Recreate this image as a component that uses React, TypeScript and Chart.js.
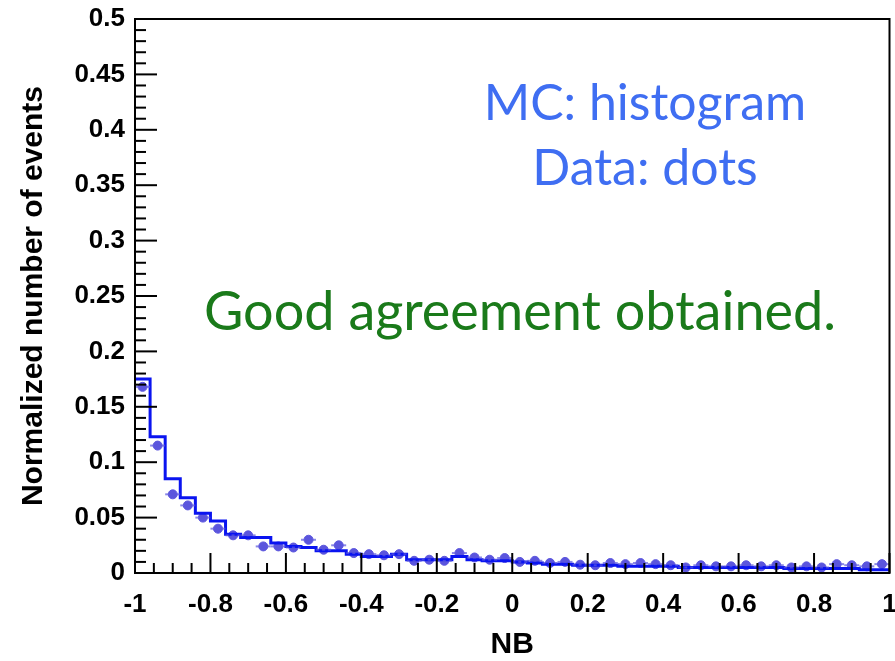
import React, { useEffect, useRef } from "react";
import { Chart, registerables } from "chart.js";
Chart.register(...registerables);

const binEdges: number[] = Array.from({ length: 51 }, (_, i) => -1 + i * 0.04);
const mcHist = [0.175,0.123,0.085,0.068,0.054,0.047,0.035,0.032,0.032,0.027,0.024,0.023,0.020,0.020,0.017,0.015,0.015,0.017,0.012,0.012,0.012,0.015,0.012,0.011,0.011,0.010,0.009,0.008,0.008,0.007,0.007,0.007,0.006,0.006,0.006,0.006,0.005,0.005,0.005,0.005,0.005,0.005,0.005,0.004,0.004,0.004,0.004,0.004,0.003,0.003];
const dataDots = [0.168,0.115,0.071,0.061,0.050,0.040,0.034,0.034,0.024,0.024,0.023,0.030,0.021,0.025,0.018,0.017,0.016,0.017,0.011,0.012,0.011,0.018,0.014,0.012,0.0135,0.010,0.011,0.009,0.010,0.0075,0.007,0.009,0.008,0.009,0.008,0.007,0.005,0.007,0.006,0.006,0.007,0.006,0.007,0.005,0.006,0.005,0.008,0.007,0.006,0.008];
const xTickLabels = ["-1", "-0.8", "-0.6", "-0.4", "-0.2", "0", "0.2", "0.4", "0.6", "0.8", "1"];
const yTickLabels = ["0", "0.05", "0.1", "0.15", "0.2", "0.25", "0.3", "0.35", "0.4", "0.45", "0.5"];
const xTitle = "NB";
const yTitle = "Normalized number of events";

export default function App() {
  const ref = useRef<HTMLCanvasElement>(null);
  useEffect(() => {
    document.body.style.margin = "0";
    const histPts = binEdges.map((x, i) => ({ x, y: mcHist[Math.min(i, mcHist.length - 1)] }));
    const dotPts = dataDots.map((y, i) => ({ x: binEdges[i] + 0.02, y }));
    const frame = {
      id: "frame",
      afterDatasetsDraw(c: any) {
        const { ctx, chartArea: a, scales } = c;
        const xs = scales.x, ys = scales.y;
        ctx.save();
        ctx.strokeStyle = "rgba(90,85,221,0.7)";
        ctx.lineWidth = 2;
        ctx.setLineDash([3, 3]);
        dotPts.forEach((p) => {
          ctx.beginPath();
          ctx.moveTo(xs.getPixelForValue(p.x - 0.02), ys.getPixelForValue(p.y));
          ctx.lineTo(xs.getPixelForValue(p.x + 0.02), ys.getPixelForValue(p.y));
          ctx.stroke();
        });
        ctx.setLineDash([]);
        ctx.strokeStyle = "#000";
        ctx.lineWidth = 2;
        ctx.strokeRect(a.left, a.top, a.right - a.left, a.bottom - a.top);
        for (let i = 0; i <= 40; i++) {
          const px = xs.getPixelForValue(-1 + i * 0.05);
          const len = i % 4 === 0 ? 20 : 10;
          ctx.beginPath(); ctx.moveTo(px, a.bottom); ctx.lineTo(px, a.bottom - len); ctx.stroke();
        }
        for (let i = 0; i <= 50; i++) {
          const py = ys.getPixelForValue(i * 0.01);
          const len = i % 5 === 0 ? 22 : 11;
          ctx.beginPath(); ctx.moveTo(a.left, py); ctx.lineTo(a.left + len, py); ctx.stroke();
        }
        ctx.fillStyle = "#000";
        ctx.font = "bold 26px 'Liberation Sans'";
        ctx.textAlign = "center"; ctx.textBaseline = "middle";
        xTickLabels.forEach((t) => ctx.fillText(t, xs.getPixelForValue(parseFloat(t)), a.bottom + 32));
        ctx.textAlign = "right";
        yTickLabels.forEach((t) => ctx.fillText(t, a.left - 10, ys.getPixelForValue(parseFloat(t))));
        ctx.textAlign = "center";
        ctx.font = "bold 30px 'Liberation Sans'";
        ctx.fillText(xTitle, (a.left + a.right) / 2, 645);
        ctx.translate(34, (a.top + a.bottom) / 2);
        ctx.rotate(-Math.PI / 2);
        ctx.fillText(yTitle, 0, 0);
        ctx.restore();
      },
    };
    const chart = new Chart(ref.current!, {
      type: "scatter",
      data: {
        datasets: [
          { type: "line", data: histPts, stepped: "before", borderColor: "#0a14f0", borderWidth: 3, pointRadius: 0, fill: false },
          { data: dotPts, backgroundColor: "#5b55dd", borderColor: "#5b55dd", pointRadius: 4.5 },
        ] as any,
      },
      options: {
        animation: false,
        responsive: false,
        layout: { padding: { top: 19, right: 0, left: 0, bottom: 0 } },
        plugins: { legend: { display: false }, tooltip: { enabled: false } },
        scales: {
          x: {
            type: "linear", min: -1, max: 1,
            afterFit: (s: any) => { s.height = 88; },
            grid: { display: false, drawTicks: false }, border: { display: false },
            ticks: { display: false, stepSize: 0.2 },
          },
          y: {
            min: 0, max: 0.5,
            afterFit: (s: any) => { s.width = 135; },
            grid: { display: false, drawTicks: false }, border: { display: false },
            ticks: { display: false, stepSize: 0.05 },
          },
        },
      } as any,
      plugins: [frame],
    });
    return () => chart.destroy();
  }, []);
  const txt: React.CSSProperties = { position: "absolute", fontFamily: "Lato, 'Open Sans', sans-serif", whiteSpace: "nowrap", transform: "translateX(-50%)", lineHeight: 1 };
  return (
    <div style={{ position: "relative", width: 895, height: 661, background: "#fff" }}>
      <canvas ref={ref} width={895} height={661} />
      <div style={{ ...txt, left: 645, top: 76, fontSize: 50, color: "#3f6ef2" }}>MC: histogram</div>
      <div style={{ ...txt, left: 645, top: 141, fontSize: 50, color: "#3f6ef2" }}>Data: dots</div>
      <div style={{ ...txt, left: 520, top: 283, fontSize: 54, color: "#1a7a1a" }}>Good agreement obtained.</div>
    </div>
  );
}
